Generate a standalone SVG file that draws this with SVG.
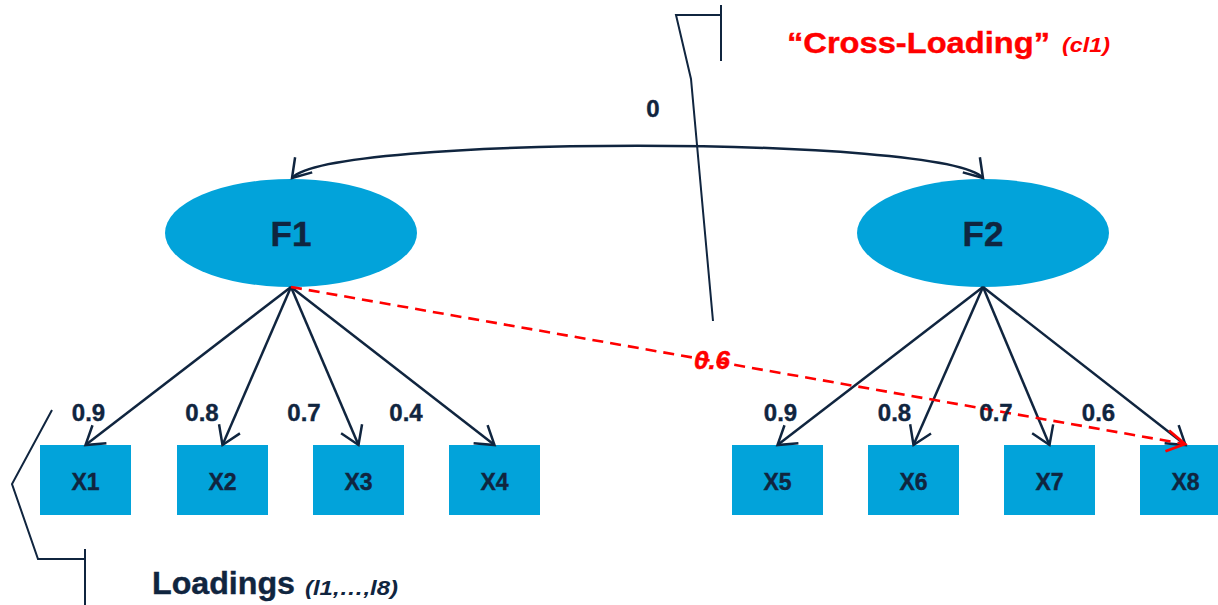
<svg xmlns="http://www.w3.org/2000/svg" width="1218" height="605" viewBox="0 0 1218 605">
  <style>
    .factor { fill: #02a3da; }
    .item { fill: #02a3da; }
    .lbl { font-family: "Liberation Sans", Arial, sans-serif; font-weight: bold; fill: #10253f; text-anchor: middle; stroke: #10253f; stroke-width: 0.4; }
    .node-lbl { font-size: 23px; }
    .factor-lbl { font-size: 35px; }
    .coef { font-size: 24px; }
    .path { fill: none; stroke: #10253f; stroke-width: 2.5; }
    .cross { fill: none; stroke: #ff0000; stroke-width: 2.6; stroke-dasharray: 11 7; }
    .callout { fill: none; stroke: #10253f; stroke-width: 2; }
  </style>
  <defs>
    <marker id="arrow" markerUnits="userSpaceOnUse" viewBox="-20 -14 22 28" refX="0" refY="0" markerWidth="22" markerHeight="28" orient="auto-start-reverse" overflow="visible">
      <path d="M-17.6,-11.4 L0,0 L-17.6,11.4" fill="none" stroke="#10253f" stroke-width="2.5" stroke-linejoin="miter"/>
    </marker>
    <marker id="arrow-red" markerUnits="userSpaceOnUse" viewBox="-20 -14 22 28" refX="0" refY="0" markerWidth="22" markerHeight="28" orient="auto" overflow="visible">
      <path d="M-18,-10.5 L0,0 L-18,10.5" fill="none" stroke="#ff0000" stroke-width="2.8"/>
    </marker>
  </defs>

  <rect width="1218" height="605" fill="#ffffff"/>

  <!-- latent factors -->
  <g id="F1">
    <ellipse class="factor" cx="291" cy="233" rx="126" ry="54"/>
    <text class="lbl factor-lbl" x="291" y="246">F1</text>
  </g>
  <g id="F2">
    <ellipse class="factor" cx="983" cy="233" rx="126" ry="54"/>
    <text class="lbl factor-lbl" x="983" y="246">F2</text>
  </g>

  <!-- observed indicators -->
  <g id="X1"><rect class="item" x="40" y="445" width="91" height="70"/><text class="lbl node-lbl" x="85.5" y="490">X1</text></g>
  <g id="X2"><rect class="item" x="177" y="445" width="91" height="70"/><text class="lbl node-lbl" x="222.5" y="490">X2</text></g>
  <g id="X3"><rect class="item" x="313" y="445" width="91" height="70"/><text class="lbl node-lbl" x="358.5" y="490">X3</text></g>
  <g id="X4"><rect class="item" x="449" y="445" width="91" height="70"/><text class="lbl node-lbl" x="494.5" y="490">X4</text></g>
  <g id="X5"><rect class="item" x="732" y="445" width="91" height="70"/><text class="lbl node-lbl" x="777.5" y="490">X5</text></g>
  <g id="X6"><rect class="item" x="868" y="445" width="91" height="70"/><text class="lbl node-lbl" x="913.5" y="490">X6</text></g>
  <g id="X7"><rect class="item" x="1004" y="445" width="91" height="70"/><text class="lbl node-lbl" x="1049.5" y="490">X7</text></g>
  <g id="X8"><rect class="item" x="1140" y="445" width="91" height="70"/><text class="lbl node-lbl" x="1185.5" y="490">X8</text></g>

  <!-- paths -->
  <g id="connectors">
    <path class="path" d="M292,178 C330,135 945,135 983,178" marker-start="url(#arrow)" marker-end="url(#arrow)"/>
    <line class="path" x1="291" y1="287" x2="85.5" y2="445" marker-end="url(#arrow)"/>
    <line class="path" x1="291" y1="287" x2="222.5" y2="445" marker-end="url(#arrow)"/>
    <line class="path" x1="291" y1="287" x2="358.5" y2="445" marker-end="url(#arrow)"/>
    <line class="path" x1="291" y1="287" x2="494.5" y2="445" marker-end="url(#arrow)"/>
    <line class="path" x1="983" y1="287" x2="777.5" y2="445" marker-end="url(#arrow)"/>
    <line class="path" x1="983" y1="287" x2="913.5" y2="445" marker-end="url(#arrow)"/>
    <line class="path" x1="983" y1="287" x2="1049.5" y2="445" marker-end="url(#arrow)"/>
    <line class="path" x1="983" y1="287" x2="1185.5" y2="445" marker-end="url(#arrow)"/>
    <line class="cross" x1="291" y1="287" x2="1185" y2="444" marker-end="url(#arrow-red)"/>
  </g>

  <!-- coefficients -->
  <g id="coefficients">
    <text class="lbl coef" x="653" y="117">0</text>
    <text class="lbl coef" x="88.5" y="421">0.9</text>
    <text class="lbl coef" x="202" y="421">0.8</text>
    <text class="lbl coef" x="304" y="421">0.7</text>
    <text class="lbl coef" x="406" y="421">0.4</text>
    <text class="lbl coef" x="780.5" y="421">0.9</text>
    <text class="lbl coef" x="894.5" y="421">0.8</text>
    <text class="lbl coef" x="996" y="421">0.7</text>
    <text class="lbl coef" x="1098.5" y="421">0.6</text>
    <text x="712" y="369" font-family="Liberation Sans, Arial, sans-serif" font-weight="bold" font-style="italic" font-size="26" fill="#ff0000" stroke="#ff0000" stroke-width="0.4" text-anchor="middle">0.6</text>
  </g>

  <!-- callouts -->
  <g id="callout-cross">
    <polyline class="callout" points="713,321 691,79 676,15 721,15"/>
    <line class="callout" x1="721" y1="5" x2="721" y2="61"/>
    <text x="787" y="53" font-family="Liberation Sans, Arial, sans-serif" font-weight="bold" font-size="30" fill="#ff0000" stroke="#ff0000" stroke-width="0.4" textLength="263" lengthAdjust="spacingAndGlyphs">“Cross-Loading”</text>
    <text x="1062" y="52" font-family="Liberation Sans, Arial, sans-serif" font-weight="bold" font-style="italic" font-size="21" fill="#ff0000" textLength="48" lengthAdjust="spacingAndGlyphs">(cl1)</text>
  </g>
  <g id="callout-loadings">
    <polyline class="callout" points="52,410 12,484 38,559 85,559"/>
    <line class="callout" x1="85" y1="549" x2="85" y2="605"/>
    <text x="152" y="594" font-family="Liberation Sans, Arial, sans-serif" font-weight="bold" font-size="31" fill="#10253f" stroke="#10253f" stroke-width="0.4" textLength="143" lengthAdjust="spacingAndGlyphs">Loadings</text>
    <text x="305" y="595" font-family="Liberation Sans, Arial, sans-serif" font-weight="bold" font-style="italic" font-size="21" fill="#10253f" textLength="93" lengthAdjust="spacingAndGlyphs">(l1,…,l8)</text>
  </g>
</svg>
